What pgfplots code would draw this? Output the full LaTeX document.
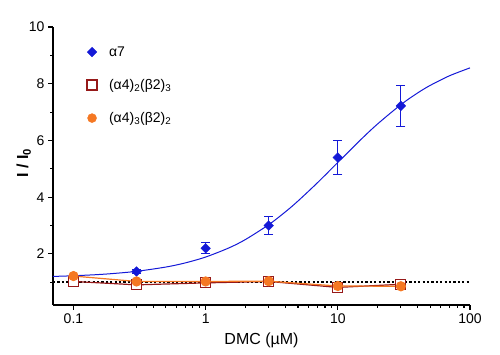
\documentclass[border=0pt]{standalone}
\usepackage{pgfplots}
\pgfplotsset{compat=1.18}
\usepackage{fontspec}
\setmainfont{Liberation Sans}
\definecolor{ablue}{RGB}{20,25,215}
\definecolor{dred}{RGB}{150,25,25}
\definecolor{orng}{RGB}{245,120,35}
\begin{document}
\begin{tikzpicture}[x=1pt,y=1pt]
\path[use as bounding box] (-53,-50) rectangle (447,305);
\begin{axis}[
  at={(0,0)}, anchor=south west,
  scale only axis, width=417pt, height=278pt,
  xmode=log, xmin=0.07, xmax=100, ymin=0.2, ymax=10,
  axis lines=left,
  axis line style={-, line width=1.2pt},
  tick style={line width=1.1pt, black},
  tick align=outside,
  major tick length=5pt, minor tick length=3pt,
  xtick={0.1,1,10,100}, xticklabels={0.1,1,10,100},
  ytick={2,4,6,8,10}, minor ytick={1,3,5,7,9},
  /pgf/number format/assume math mode=true,
  tick label style={font=\fontsize{14}{14}\selectfont},
  xlabel={DMC (µM)},
  xlabel style={font=\fontsize{16}{16}\selectfont, at={(axis description cs:0.5,-0.126)}, anchor=center},
  ylabel={\textbf{I / I\textsubscript{0}}},
  ylabel style={font=\fontsize{16}{16}\selectfont, at={(axis description cs:-0.07,0.51)}, anchor=center, rotate=0},
  legend style={draw=none, fill=none, at={(axis description cs:0.074,0.945)}, anchor=north west,
    font=\fontsize{14}{16}\selectfont, row sep=17.5pt, column sep=10pt},
  legend cell align=left,
  clip=false,
]
% legend images
\addlegendimage{only marks, mark=square*, mark options={rotate=45}, color=ablue, mark size=3.4pt}
\addlegendentry{α7}
\addlegendimage{only marks, mark=square*, draw=dred, fill=white, mark size=5pt, mark options={line width=1.2pt}}
\addlegendentry{(α4)\textsubscript{2}(β2)\textsubscript{3}}
\addlegendimage{only marks, mark=*, color=orng, mark size=4.5pt}
\addlegendentry{(α4)\textsubscript{3}(β2)\textsubscript{2}}

% alpha7 fitted curve (precomputed values)
\addplot[ablue, line width=1pt, smooth, forget plot] coordinates {
(0.07,1.207) (0.1,1.231) (0.15,1.270) (0.2,1.310) (0.3,1.387) (0.5,1.538)
(0.7,1.683) (1,1.891) (1.5,2.213) (2,2.508) (3,3.031) (4,3.479) (5,3.867)
(7,4.506) (10,5.225) (15,6.040) (20,6.583) (30,7.263) (40,7.670) (50,7.942)
(70,8.281) (100,8.559)};
% alpha7 data
\addplot[only marks, mark=square*, mark options={rotate=45}, color=ablue, mark size=3.4pt, forget plot,
  error bars/.cd, y dir=both, y explicit,
  error bar style={line width=1pt, ablue},
  error mark options={rotate=90, mark size=4.5pt, line width=1pt, ablue}]
  coordinates {
  (0.1,1.2) +- (0,0.05)
  (0.3,1.38) +- (0,0.06)
  (1,2.2) +- (0,0.2)
  (3,3.0) +- (0,0.31)
  (10,5.4) +- (0,0.6)
  (30,7.22) +- (0,0.71)
};
% dotted baseline
\addplot[black, line width=2pt, dash pattern=on 2.2pt off 2.2pt, forget plot] coordinates {(0.07,1) (100,1)};
% (a4)2(b2)3
\addplot[dred, line width=1.2pt, mark=square*, mark size=5pt, mark options={fill=white, draw=dred, line width=1.2pt}, forget plot]
  coordinates {(0.1,1.03) (0.3,0.91) (1,0.98) (3,1.03) (10,0.82) (30,0.93)};
% (a4)3(b2)2
\addplot[orng, line width=1.2pt, mark=*, mark size=4.5pt, forget plot]
  coordinates {(0.1,1.22) (0.3,1.03) (1,1.03) (3,1.04) (10,0.87) (30,0.86)};
\end{axis}
\end{tikzpicture}
\end{document}
